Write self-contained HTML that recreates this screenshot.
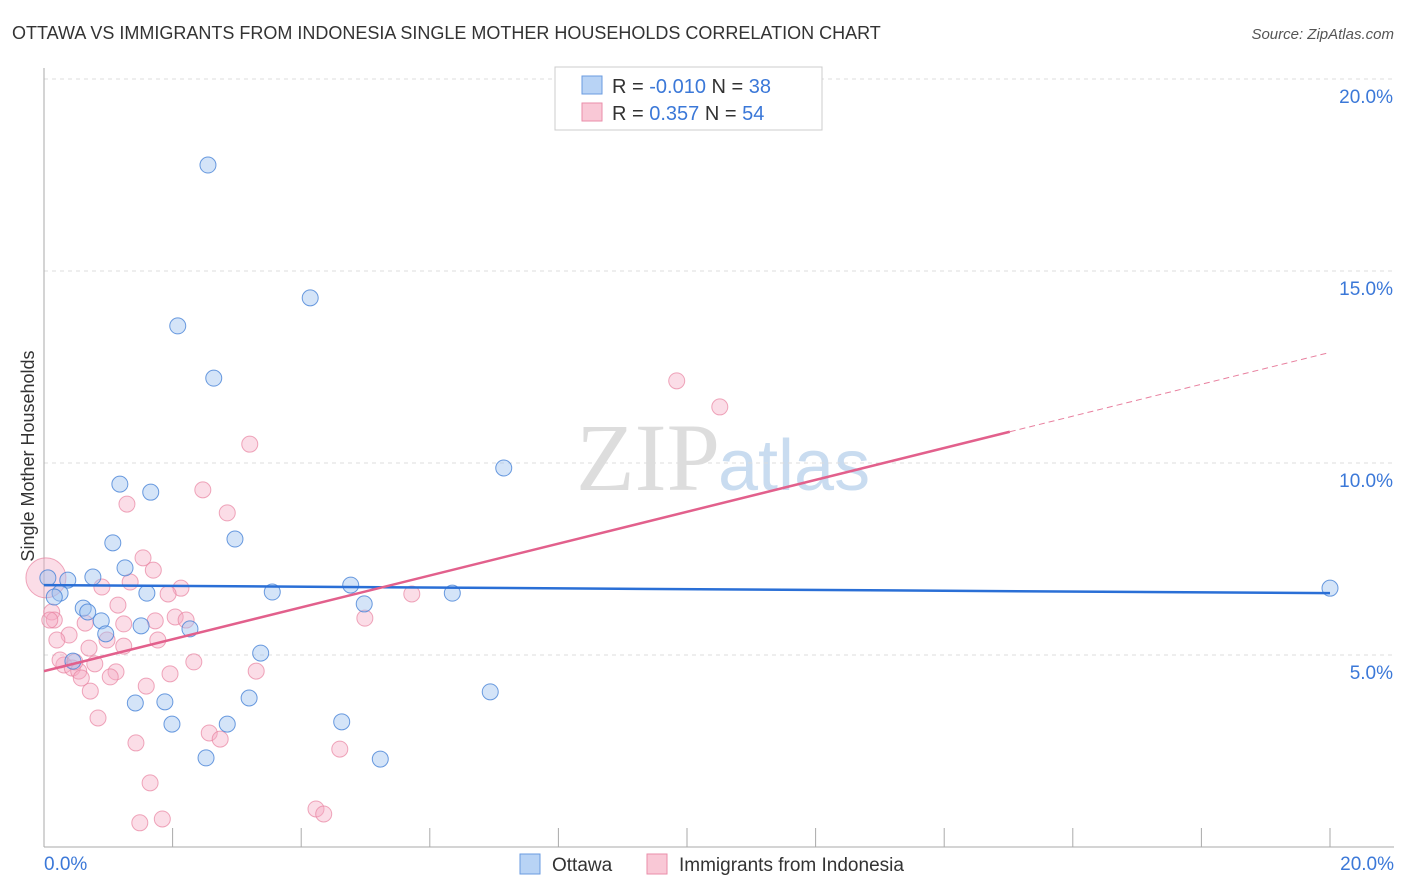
<!DOCTYPE html>
<html><head><meta charset="utf-8"><style>
body{margin:0;background:#fff;font-family:"Liberation Sans",sans-serif;}
svg{display:block}
</style></head><body>
<svg id="chart" width="1406" height="892" xmlns="http://www.w3.org/2000/svg" font-family="Liberation Sans, sans-serif">
<text x="12" y="39" font-size="18" fill="#333">OTTAWA VS IMMIGRANTS FROM INDONESIA SINGLE MOTHER HOUSEHOLDS CORRELATION CHART</text>
<text x="1394" y="39" font-size="15" fill="#555" text-anchor="end" font-style="italic">Source: ZipAtlas.com</text>
<text x="720" y="490" font-size="96" fill="#ddd" text-anchor="end" font-family="Liberation Serif, serif">ZIP</text>
<text x="718" y="490" font-size="72" fill="#c9dcf0">atlas</text>
<g id="grid"></g>
<g id="axes"></g>
<g id="marks"></g>
<text transform="translate(34,456) rotate(-90)" font-size="18" fill="#333" text-anchor="middle">Single Mother Households</text>
<g>
<rect x="555" y="67" width="267" height="63" fill="#fff" stroke="#ccc"/>
<rect x="582" y="76" width="20" height="18" fill="#b8d3f5" stroke="#6a9be0"/>
<rect x="582" y="103" width="20" height="18" fill="#f9c8d6" stroke="#ea8eaa"/>
<text x="612" y="93" font-size="20" fill="#333">R = <tspan fill="#3b78d8">-0.010</tspan>   N = <tspan fill="#3b78d8">38</tspan></text>
<text x="612" y="120" font-size="20" fill="#333">R =   <tspan fill="#3b78d8">0.357</tspan>   N = <tspan fill="#3b78d8">54</tspan></text>
</g>
<g>
<rect x="520" y="854" width="20" height="20" fill="#b8d3f5" stroke="#6a9be0"/>
<text x="552" y="871" font-size="19" fill="#333">Ottawa</text>
<rect x="647" y="854" width="20" height="20" fill="#f9c8d6" stroke="#ea8eaa"/>
<text x="679" y="871" font-size="19" fill="#333">Immigrants from Indonesia</text>
</g>
</svg>
<script>
const blueX=[2.55,4.14,2.08,2.64,7.15,1.18,1.66,2.97,1.07,1.26,0.76,0.37,0.06,4.77,3.55,1.60,6.35,0.25,0.16,0.61,0.68,4.98,0.89,1.51,2.27,0.96,3.37,0.45,6.94,3.19,1.42,1.88,1.99,2.85,4.63,2.52,5.23,20.0];
const blueY=[17.76,14.30,13.57,12.21,9.87,9.45,9.24,8.02,7.92,7.27,7.03,6.95,7.01,6.82,6.64,6.61,6.61,6.61,6.51,6.22,6.12,6.33,5.89,5.76,5.68,5.55,5.05,4.84,4.04,3.88,3.75,3.78,3.20,3.20,3.26,2.32,2.29,6.74];
const pinkX=[9.84,10.51,3.20,2.47,1.29,2.85,1.54,1.70,1.34,0.90,2.13,1.93,0.03,5.72,1.15,0.12,0.16,0.64,1.73,2.04,2.21,1.24,0.98,0.39,1.77,0.20,4.99,0.70,1.24,2.33,0.79,0.31,0.44,0.54,1.12,3.30,1.96,1.03,0.58,1.59,0.72,0.84,2.57,2.74,1.43,4.60,1.65,4.23,4.35,1.84,1.49,0.09,0.25,0.48];
const pinkY=[12.14,11.46,10.49,9.30,8.93,8.70,7.53,7.21,6.90,6.77,6.74,6.59,7.01,6.59,6.30,6.12,5.91,5.83,5.89,5.99,5.91,5.81,5.39,5.52,5.39,5.39,5.96,5.18,5.23,4.82,4.77,4.74,4.66,4.58,4.56,4.58,4.51,4.43,4.40,4.19,4.06,3.36,2.97,2.81,2.71,2.55,1.67,0.99,0.86,0.73,0.63,5.91,4.87,4.82];
const blueTrend=[6.82,6.61];
const pinkTrend=[4.58,0.415];
const yTicks=[5,10,15,20];
const yTickLabels=["5.0%","10.0%","15.0%","20.0%"];
const xTicks=[0,2,4,6,8,10,12,14,16,18,20];

const NS="http://www.w3.org/2000/svg";
const xs=v=>44+v*64.3;
const ys=v=>847-v*38.4;
function mk(parent,tag,attrs){const e=document.createElementNS(NS,tag);for(const k in attrs)e.setAttribute(k,attrs[k]);document.getElementById(parent).appendChild(e);return e;}

let e=mk('grid','line',{x1:44,x2:1394,y1:79,y2:79,stroke:'#ddd','stroke-dasharray':'4,4'});


yTicks.forEach((t,i)=>{
 let g=mk('grid','line',{x1:44,x2:1394,y1:ys(t),y2:ys(t),stroke:'#ddd','stroke-dasharray':'4,4'});
 
 
 let l=mk('axes','text',{x:1393,y:ys(t)+24,'font-size':19,fill:'#3b78d8','text-anchor':'end'});
 l.textContent=yTickLabels[i];
 
 
});
e=mk('axes','line',{x1:44,x2:44,y1:68,y2:847,stroke:'#aaa'});


e=mk('axes','line',{x1:44,x2:1394,y1:847,y2:847,stroke:'#aaa'});


xTicks.forEach(t=>{
 let k=mk('axes','line',{x1:xs(t),x2:xs(t),y1:828,y2:847,stroke:'#aaa'});
 
 
});
e=mk('axes','text',{x:44,y:870,'font-size':19,fill:'#3b78d8'});e.textContent='0.0%';


e=mk('axes','text',{x:1394,y:870,'font-size':19,fill:'#3b78d8','text-anchor':'end'});e.textContent='20.0%';



pinkX.forEach((x,i)=>{
 let c=mk('marks','circle',{cx:xs(x),cy:ys(pinkY[i]),r:(i===12?20:8),fill:'rgba(246,170,195,0.4)',stroke:'rgba(232,130,160,0.7)','stroke-width':1});
 
 
});
blueX.forEach((x,i)=>{
 let c=mk('marks','circle',{cx:xs(x),cy:ys(blueY[i]),r:8,fill:'rgba(160,195,240,0.45)',stroke:'rgba(70,130,215,0.8)','stroke-width':1});
 
 
});
e=mk('marks','line',{x1:xs(0),x2:xs(20),y1:ys(blueTrend[0]),y2:ys(blueTrend[1]),stroke:'#2a6fd6','stroke-width':2.5});


e=mk('marks','line',{x1:xs(0),x2:xs(15.02),y1:ys(pinkTrend[0]),y2:ys(pinkTrend[0]+pinkTrend[1]*15.02),stroke:'#e2608c','stroke-width':2.5});


e=mk('marks','line',{x1:xs(15.02),x2:xs(20),y1:ys(pinkTrend[0]+pinkTrend[1]*15.02),y2:ys(pinkTrend[0]+pinkTrend[1]*20),stroke:'#e8809f','stroke-width':1,'stroke-dasharray':'6,4'});


</script>
</body></html>
